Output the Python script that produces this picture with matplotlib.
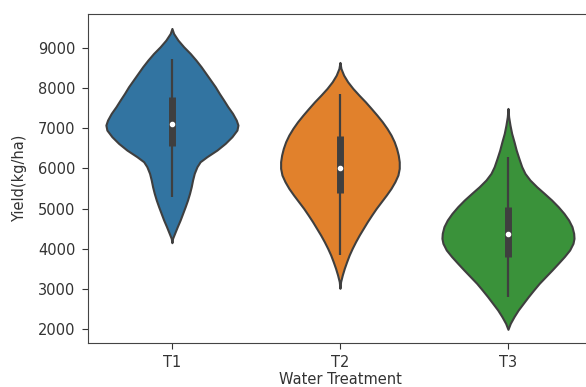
import numpy as np
import matplotlib
matplotlib.use('Agg')
import matplotlib.pyplot as plt

# treatments and violin colours (seaborn default, desaturated)
treatments = ['T1', 'T2', 'T3']
colors = ['#3274a1', '#e1812c', '#3a923a']

# violin outlines: yield levels and half widths (category units)
t1_yield = [9490, 9365, 9199, 9033, 8867, 8701, 8535, 8369, 8203, 8037, 7871, 7705,
            7539, 7373, 7206, 7082, 6957, 6791, 6625, 6459, 6293, 6168, 6044, 5878,
            5712, 5546, 5380, 5213, 5047, 4881, 4715, 4549, 4383, 4258, 4150]
t1_half = [0.0, 0.010, 0.036, 0.070, 0.109, 0.143, 0.174, 0.202, 0.230, 0.258, 0.282, 0.308,
           0.333, 0.361, 0.383, 0.393, 0.387, 0.357, 0.317, 0.268, 0.208, 0.168, 0.149, 0.133,
           0.123, 0.115, 0.105, 0.093, 0.079, 0.064, 0.049, 0.032, 0.016, 0.004, 0.0]

t2_yield = [8643, 8493, 8327, 8161, 7995, 7829, 7663, 7497, 7331, 7165, 6999, 6833,
            6667, 6500, 6334, 6168, 6002, 5836, 5670, 5504, 5338, 5172, 5006, 4840,
            4674, 4508, 4342, 4175, 4009, 3843, 3677, 3511, 3345, 3179, 3013]
t2_half = [0.0, 0.006, 0.022, 0.046, 0.077, 0.113, 0.151, 0.186, 0.220, 0.252, 0.280, 0.304,
           0.323, 0.337, 0.347, 0.353, 0.353, 0.345, 0.327, 0.304, 0.276, 0.246, 0.216, 0.189,
           0.163, 0.139, 0.115, 0.093, 0.073, 0.055, 0.040, 0.026, 0.014, 0.004, 0.0]

t3_yield = [7497, 7289, 7082, 6874, 6667, 6459, 6251, 6044, 5878, 5712, 5545, 5379,
            5213, 5047, 4881, 4715, 4549, 4383, 4258, 4134, 3968, 3802, 3636, 3469,
            3303, 3137, 2971, 2805, 2639, 2473, 2307, 2141, 1991]
t3_half = [0.0, 0.004, 0.012, 0.022, 0.036, 0.049, 0.065, 0.082, 0.101, 0.131, 0.171, 0.216,
           0.260, 0.299, 0.333, 0.361, 0.381, 0.391, 0.393, 0.387, 0.367, 0.335, 0.299, 0.262,
           0.224, 0.186, 0.153, 0.121, 0.091, 0.061, 0.036, 0.014, 0.0]

# inner box stats: whisker low, q1, median, q3, whisker high
whisk_lo = [5280, 3843, 2789]
q1 = [6559, 5380, 3801]
median = [7107, 6018, 4366]
q3 = [7772, 6808, 5031]
whisk_hi = [8718, 7847, 6276]

yields = [t1_yield, t2_yield, t3_yield]
halves = [t1_half, t2_half, t3_half]

fig = plt.figure(figsize=(5.86, 3.87), dpi=100)
ax = fig.add_axes([0.150, 0.1137, 0.8602, 0.8501])

edge = '#3f3f3f'
for i in range(3):
    y = np.array(yields[i])
    w = np.array(halves[i])
    ax.fill_betweenx(y, i - w, i + w, facecolor=colors[i], edgecolor=edge,
                     linewidth=1.5, joinstyle='round', zorder=1)
    # whiskers
    ax.plot([i, i], [whisk_lo[i], whisk_hi[i]], color=edge, linewidth=1.6,
            solid_capstyle='butt', zorder=2)
    # box
    ax.plot([i, i], [q1[i], q3[i]], color=edge, linewidth=5, solid_capstyle='butt', zorder=3)
    # median
    ax.scatter([i], [median[i]], s=9, color='white', zorder=4)

ax.set_xlim(-0.5, 2.5)
ax.set_ylim(1650, 9850)
ax.set_xticks(range(3))
ax.set_xticklabels(treatments)
ax.set_yticks(range(2000, 9001, 1000))
ax.tick_params(labelsize=10.5, colors='#333333', pad=5, length=4)
ax.set_xlabel('Water Treatment', fontsize=10.5, color='#333333', labelpad=1)
ax.set_ylabel('Yield(kg/ha)', fontsize=10.5, color='#333333', labelpad=8)
for s in ax.spines.values():
    s.set_color('#444444')

fig.savefig('out.png', dpi=100)
